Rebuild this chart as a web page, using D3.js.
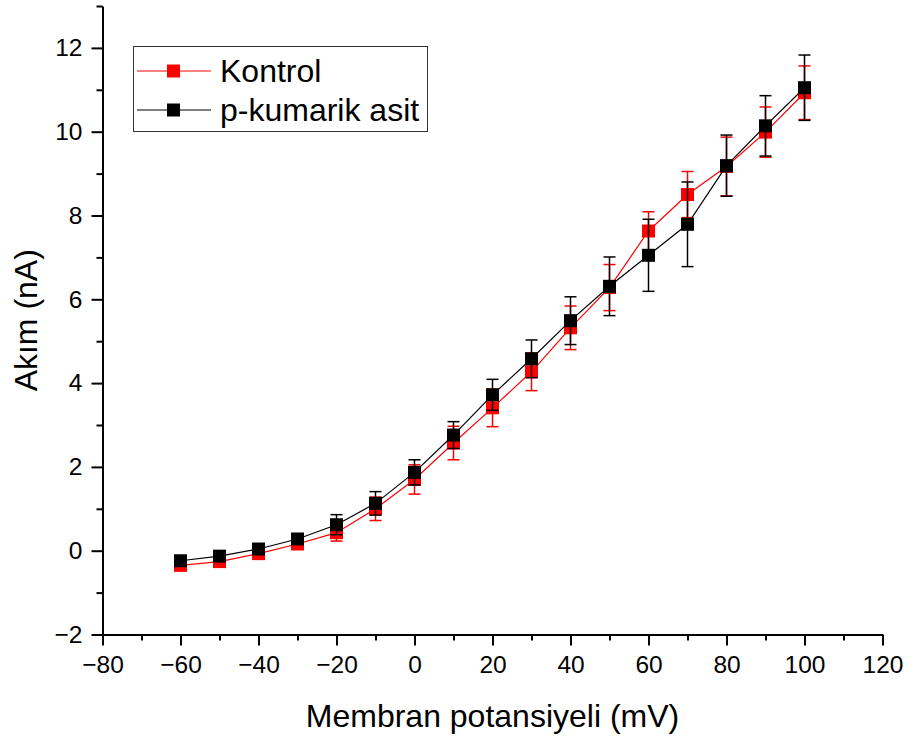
<!DOCTYPE html>
<html>
<head>
<meta charset="utf-8">
<script src="https://cdn.jsdelivr.net/npm/d3@7"></script>
<style>
  body { margin: 0; background: #fff; }
  text { font-family: Arial, "Liberation Sans", sans-serif; }
</style>
</head>
<body>
<div id="chart"></div>
<script>
const potentials = [-60, -50, -40, -30, -20, -10, 0, 10, 20, 30, 40, 50, 60, 70, 80, 90, 100];
const kontrol = [-0.35, -0.26, -0.07, 0.16, 0.43, 1.0, 1.70, 2.57, 3.41, 4.27, 5.32, 6.28, 7.63, 8.50, 9.17, 9.99, 10.93];
const kontrolErr = [0.08, 0.08, 0.1, 0.12, 0.2, 0.28, 0.35, 0.4, 0.45, 0.45, 0.52, 0.55, 0.46, 0.55, 0.7, 0.6, 0.64];
const kumarik = [-0.24, -0.13, 0.04, 0.28, 0.62, 1.13, 1.87, 2.76, 3.72, 4.58, 5.49, 6.31, 7.05, 7.79, 9.19, 10.14, 11.05];
const kumarikErr = [0.08, 0.08, 0.1, 0.12, 0.24, 0.28, 0.3, 0.32, 0.37, 0.45, 0.57, 0.7, 0.86, 1.01, 0.73, 0.72, 0.78];
const xTicks = [-80, -60, -40, -20, 0, 20, 40, 60, 80, 100, 120];
const yTicks = [-2, 0, 2, 4, 6, 8, 10, 12];

const w = 911, h = 742;

const svg = d3.select("#chart").append("svg")
  .attr("width", w)
  .attr("height", h);

const x = d3.scaleLinear().domain([-80, 120]).range([102.5, 882.5]);
const y = d3.scaleLinear().domain([-2, 13]).range([634.5, 6]);

// minor ticks first
svg.append("g")
  .attr("transform", `translate(0,${y(-2)})`)
  .call(d3.axisBottom(x).tickValues(d3.range(-70, 120, 20)).tickSize(6).tickSizeOuter(0).tickFormat(""))
  .call(g => g.select(".domain").remove())
  .call(g => g.selectAll("line").attr("stroke-width", 2));

svg.append("g")
  .attr("transform", `translate(${x(-80)},0)`)
  .call(d3.axisLeft(y).tickValues(d3.range(-1, 14, 2)).tickSize(6).tickSizeOuter(0).tickFormat(""))
  .call(g => g.select(".domain").remove())
  .call(g => g.selectAll("line").attr("stroke-width", 2));

const xAxis = svg.append("g")
  .attr("transform", `translate(0,${y(-2)})`)
  .call(d3.axisBottom(x).tickValues(xTicks).tickSize(11).tickSizeOuter(0).tickPadding(10));

const yAxis = svg.append("g")
  .attr("transform", `translate(${x(-80)},0)`)
  .call(d3.axisLeft(y).tickValues(yTicks).tickSize(11).tickSizeOuter(0).tickPadding(9));

[xAxis, yAxis].forEach(a => {
  a.select(".domain").attr("stroke-width", 2);
  a.selectAll("line").attr("stroke-width", 2);
  a.selectAll("text").attr("font-size", 24.5).attr("fill", "#000")
    .attr("font-family", "Arial, 'Liberation Sans', sans-serif");
});

// series
const series = [
  { name: "Kontrol", vals: kontrol, err: kontrolErr, color: "#ff0000" },
  { name: "p-kumarik asit", vals: kumarik, err: kumarikErr, color: "#000000" }
];

const line = d3.line()
  .x((d, i) => x(potentials[i]))
  .y(d => y(d));

series.forEach(s => {
  const g = svg.append("g");
  g.append("path")
    .datum(s.vals)
    .attr("fill", "none")
    .attr("stroke", s.color)
    .attr("stroke-width", 1.2)
    .attr("d", line);

  const eb = g.selectAll(".eb").data(s.vals).join("g");
  eb.append("line")
    .attr("x1", (d, i) => x(potentials[i]))
    .attr("x2", (d, i) => x(potentials[i]))
    .attr("y1", (d, i) => y(d - s.err[i]))
    .attr("y2", (d, i) => y(d + s.err[i]))
    .attr("stroke", s.color).attr("stroke-width", 1.5);
  [-1, 1].forEach(sg => {
    eb.append("line")
      .attr("x1", (d, i) => x(potentials[i]) - 6)
      .attr("x2", (d, i) => x(potentials[i]) + 6)
      .attr("y1", (d, i) => y(d + sg * s.err[i]))
      .attr("y2", (d, i) => y(d + sg * s.err[i]))
      .attr("stroke", s.color).attr("stroke-width", 1.5);
  });

  g.selectAll("rect").data(s.vals).join("rect")
    .attr("x", (d, i) => x(potentials[i]) - 6.5)
    .attr("y", d => y(d) - 6.5)
    .attr("width", 13)
    .attr("height", 13)
    .attr("fill", s.color);
});

// legend
const legend = svg.append("g");
legend.append("rect")
  .attr("x", 133.5).attr("y", 46.5)
  .attr("width", 294).attr("height", 85)
  .attr("fill", "#fff")
  .attr("stroke", "#333").attr("stroke-width", 1);

series.forEach((s, i) => {
  const ly = 71 + i * 39;
  legend.append("line")
    .attr("x1", 137).attr("x2", 211)
    .attr("y1", ly).attr("y2", ly)
    .attr("stroke", s.color).attr("stroke-width", 1.2);
  legend.append("rect")
    .attr("x", 173.5 - 6.5).attr("y", ly - 6.5)
    .attr("width", 13).attr("height", 13)
    .attr("fill", s.color);
  legend.append("text")
    .attr("x", 220).attr("y", ly + 11)
    .attr("font-size", 32)
    .text(s.name);
});

// axis titles
svg.append("text")
  .attr("x", (x(-80) + x(120)) / 2)
  .attr("y", 727)
  .attr("text-anchor", "middle")
  .attr("font-size", 32)
  .text("Membran potansiyeli (mV)");

svg.append("text")
  .attr("transform", `translate(37,${(y(-2) + y(13)) / 2}) rotate(-90)`)
  .attr("text-anchor", "middle")
  .attr("font-size", 32)
  .text("Akım (nA)");
</script>
</body>
</html>
